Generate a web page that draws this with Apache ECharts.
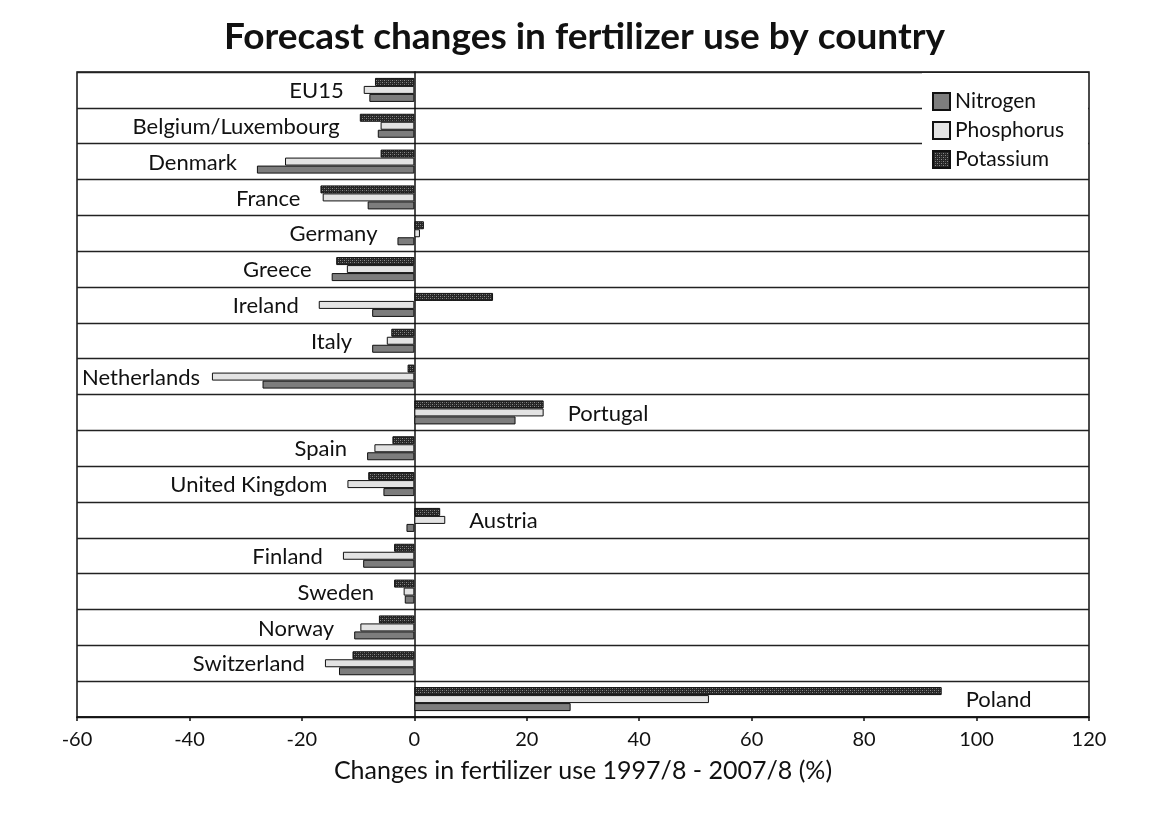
<!DOCTYPE html>
<html>
<head>
<meta charset="utf-8">
<script src="https://cdn.jsdelivr.net/npm/echarts@6/dist/echarts.min.js"></script>
<style>
  html, body { margin: 0; padding: 0; background: #fff; }
  #chart { width: 1169px; height: 813px; }
</style>
</head>
<body>
<div id="chart"></div>
<script>
// Forecast change (%) in fertilizer use, 1997/8 - 2007/8
const countries = ['EU15', 'Belgium/Luxembourg', 'Denmark', 'France', 'Germany', 'Greece',
  'Ireland', 'Italy', 'Netherlands', 'Portugal', 'Spain', 'United Kingdom', 'Austria',
  'Finland', 'Sweden', 'Norway', 'Switzerland', 'Poland'];
const nitrogen   = [-8, -6.5, -28, -8.3, -3, -14.7, -7.5, -7.5, -27, 18, -8.4, -5.5, -1.4, -9.1, -1.7, -10.7, -13.4, 27.8];
const phosphorus = [-9, -6, -23, -16.3, 1, -12, -17, -4.9, -36, 23, -7.1, -11.9, 5.5, -12.7, -1.9, -9.6, -15.9, 52.4];
const potassium  = [-7, -9.7, -6, -16.7, 1.7, -13.9, 14, -4.1, -1.2, 23, -3.9, -8.2, 4.6, -3.6, -3.6, -6.3, -11, 93.8];
const xTicks = [-60, -40, -20, 0, 20, 40, 60, 80, 100, 120];

const FONT = 'Lato, "Open Sans", sans-serif';
const GRID = { left: 77, right: 80, top: 72, bottom: 96 };
const NAME_SIZE = 22;

// stippled fill for the potassium bars
function stipple() {
  const c = document.createElement('canvas');
  c.width = 4; c.height = 4;
  const g = c.getContext('2d');
  g.fillStyle = '#262626';
  g.fillRect(0, 0, 4, 4);
  g.fillStyle = '#8c8c8c';
  g.fillRect(0, 0, 1, 1);
  g.fillRect(2, 2, 1, 1);
  g.fillStyle = '#555';
  g.fillRect(2, 0, 1, 1);
  g.fillRect(0, 2, 1, 1);
  return c;
}
const potassiumFill = { image: stipple(), repeat: 'repeat' };

// country name sits beside the longest bar of its group
const measure = document.createElement('canvas').getContext('2d');
measure.font = NAME_SIZE + 'px ' + FONT;
const labelSide = countries.map((_, i) => {
  const vals = [nitrogen[i], phosphorus[i], potassium[i]];
  const lo = Math.min(...vals), hi = Math.max(...vals);
  return hi > -lo ? { side: 'right', v: hi } : { side: 'left', v: Math.min(lo, 0) };
});

const chart = echarts.init(document.getElementById('chart'));
chart.setOption({
  backgroundColor: '#ffffff',
  animation: false,
  title: {
    text: 'Forecast changes in fertilizer use by country',
    left: 'center', top: 14,
    textStyle: { fontFamily: FONT, fontSize: 37, fontWeight: 'bold', color: '#111' }
  },
  // white panel behind the legend hides the row rules there
  graphic: [{
    type: 'rect', z: 3,
    shape: { x: 922, y: 73, width: 166, height: 104 },
    style: { fill: '#ffffff' }
  }],
  legend: {
    orient: 'vertical',
    left: 922, top: 72,
    padding: [19, 0, 0, 10],
    icon: 'rect',
    itemWidth: 17, itemHeight: 17, itemGap: 8,
    textStyle: { fontFamily: FONT, fontSize: 21, lineHeight: 21, color: '#111' },
    data: ['Nitrogen', 'Phosphorus', 'Potassium']
  },
  grid: Object.assign({ show: true, borderColor: '#111', borderWidth: 1.5, backgroundColor: 'transparent' }, GRID),
  xAxis: {
    type: 'value', min: -60, max: 120, interval: 20,
    name: 'Changes in fertilizer use 1997/8 - 2007/8 (%)',
    nameLocation: 'middle', nameGap: 41,
    nameTextStyle: { fontFamily: FONT, fontSize: 25, color: '#111' },
    axisLine: { show: true, lineStyle: { color: '#111', width: 1.5 } },
    axisTick: { show: true, length: 4, lineStyle: { color: '#111', width: 1.5 } },
    axisLabel: { fontFamily: FONT, fontSize: 20, color: '#111', margin: 13,
      formatter: v => xTicks.includes(v) ? String(v) : '' },
    splitLine: { show: false }
  },
  yAxis: {
    type: 'category', inverse: true, data: countries,
    axisLine: { show: true, onZero: true, lineStyle: { color: '#111', width: 1.5 } },
    axisTick: { show: false },
    axisLabel: { show: false },
    splitLine: { show: true, lineStyle: { color: '#222', width: 1.3 } }
  },
  series: [
    { name: 'Potassium', type: 'bar', data: potassium, barWidth: 8, barGap: '0%',
      itemStyle: { color: potassiumFill, borderColor: '#111', borderWidth: 1 } },
    { name: 'Phosphorus', type: 'bar', data: phosphorus, barWidth: 8, barGap: '0%',
      itemStyle: { color: '#e3e3e3', borderColor: '#111', borderWidth: 1 } },
    { name: 'Nitrogen', type: 'bar', data: nitrogen, barWidth: 8, barGap: '0%',
      itemStyle: { color: '#7d7d7d', borderColor: '#111', borderWidth: 1 } },
    {
      name: 'names', type: 'custom', clip: false, silent: true,
      data: countries.map((c, i) => [labelSide[i].v, i]),
      encode: { x: 0, y: 1 },
      renderItem: (params, api) => {
        const i = params.dataIndex;
        const p = api.coord([api.value(0), api.value(1)]);
        const text = countries[i];
        const w = measure.measureText(text).width;
        const right = labelSide[i].side === 'right';
        let x = right ? p[0] + 24 : p[0] - 20;
        if (!right) x = Math.max(x, GRID.left + 5 + w);
        return {
          type: 'text',
          style: {
            text, x, y: p[1] + 1,
            align: right ? 'left' : 'right', verticalAlign: 'middle',
            fontFamily: FONT, fontSize: NAME_SIZE, fill: '#111'
          }
        };
      }
    }
  ]
});
</script>
</body>
</html>
